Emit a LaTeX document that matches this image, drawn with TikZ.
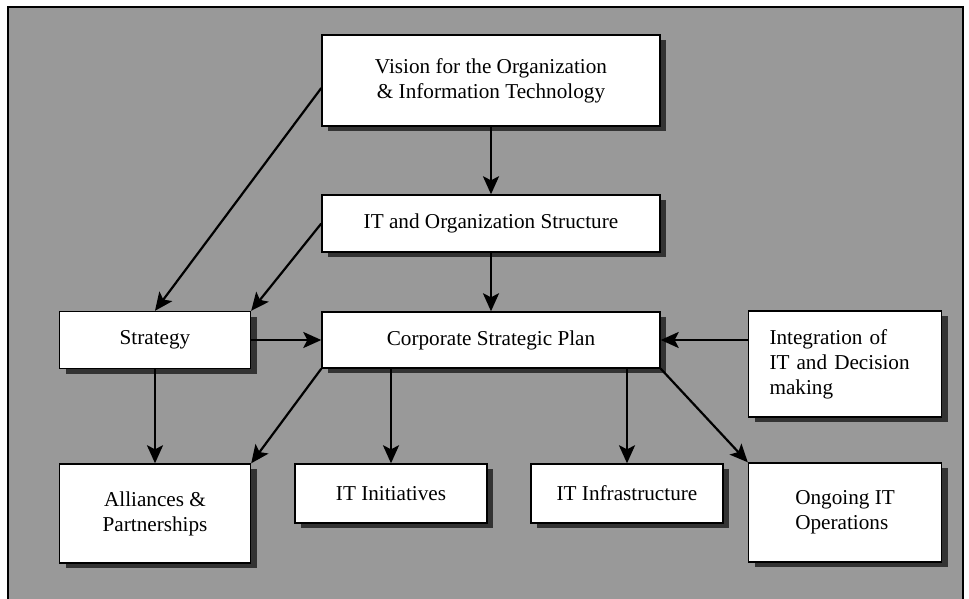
\documentclass[tikz,border=0pt]{standalone}
\usepackage{fontspec}
\setmainfont{Liberation Serif}
\usepackage{tikz}
\usetikzlibrary{arrows.meta,shadows}

\tikzset{
  block/.style = {draw=black, line width=0.7pt, fill=white, align=center, inner sep=2pt,
    drop shadow={shadow xshift=3pt, shadow yshift=-2.5pt, fill=black!80, opacity=1}},
  link/.style = {-{Stealth[length=9pt,width=8pt,inset=2pt]}, line width=1.1pt}
}

\begin{document}
\begin{tikzpicture}[x=0.5pt, y=-0.5pt, font=\fontsize{10.6}{12.5}\selectfont]
	\useasboundingbox (0,0) rectangle (969,599);
	\clip (0,0) rectangle (969,599);
	\fill[black!40] (8,7) rectangle (963,599);
	\draw[line width=1pt] (8,599) -- (8,7) -- (963,7) -- (963,599);
	% middle column
	\node[block, minimum width=169pt, minimum height=45.5pt] (vision) at (491,80.5) {Vision for the Organization\\\& Information Technology};
	\node[block, minimum width=169pt, minimum height=28.5pt] (itorg) at (491,223.5) {IT and Organization Structure};
	\node[block, minimum width=169pt, minimum height=28pt] (corp) at (491,340) {Corporate Strategic Plan};
	% sides
	\node[block, minimum width=95.5pt, minimum height=28.5pt] (strat) at (155,340) {Strategy};
	\node[block, minimum width=96.5pt, minimum height=53pt, text width=75.5pt, align=left] (integ) at (845,364) {Integration of\\IT and Decision\\making};
	% bottom row
	\node[block, minimum width=95.5pt, minimum height=49.5pt] (alli) at (155,513.5) {Alliances \&\\Partnerships};
	\node[block, minimum width=96pt, minimum height=29.5pt] (init) at (391,493.5) {IT Initiatives};
	\node[block, minimum width=96pt, minimum height=29.5pt] (infra) at (627,493.5) {IT Infrastructure};
	\node[block, minimum width=96.5pt, minimum height=49.5pt, align=left] (ongo) at (845,512.5) {Ongoing IT\\Operations};
	% connectors
	\draw[link] (vision) -- (itorg);
	\draw[link] (itorg) -- (corp);
	\draw[link] ([yshift=-3.75pt]vision.west) -- (strat.north);
	\draw[link] (itorg.west) -- (strat.north east);
	\draw[link] (strat) -- (corp);
	\draw[link] (integ.west |- corp.east) -- (corp.east);
	\draw[link] (strat) -- (alli);
	\draw[link] (corp.south west) -- (alli.north east);
	\draw[link] (init.north |- corp.south) -- (init.north);
	\draw[link] (infra.north |- corp.south) -- (infra.north);
	\draw[link] (corp.south east) -- (ongo.north west);
\end{tikzpicture}
\end{document}
